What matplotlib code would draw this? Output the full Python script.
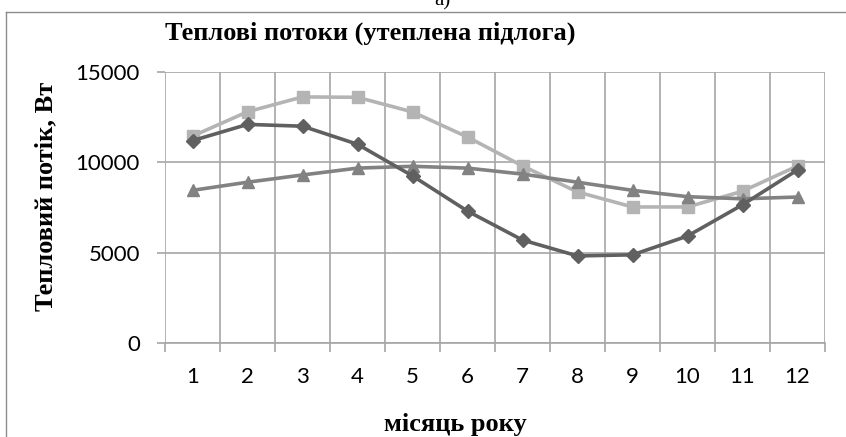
import numpy as np
import matplotlib.pyplot as plt
from matplotlib.lines import Line2D

months = np.arange(1, 13)
month_labels = [str(m) for m in months]

# heat flows, W
flow_diamond = [11200, 12100, 12000, 11000, 9250, 7300, 5700, 4820, 4880, 5920, 7650, 9580]
flow_square = [11450, 12800, 13620, 13600, 12790, 11400, 9800, 8360, 7530, 7530, 8400, 9800]
flow_triangle = [8450, 8900, 9300, 9680, 9780, 9680, 9350, 8900, 8450, 8100, 7980, 8080]

serif = 'Liberation Serif'
tickfont = 'Lato'

fig = plt.figure(figsize=(8.46, 4.37), dpi=100)
ax = fig.add_axes([165/846, 1 - 343/437, 660/846, 271/437])

grid_c = '#a6a6a6'
ax.plot(months, flow_diamond, color='#606060', lw=2.6, marker='D', ms=7, zorder=4)
ax.plot(months, flow_square, color='#b4b4b4', lw=2.6, marker='s', ms=8.5, zorder=3)
ax.plot(months, flow_triangle, color='#828282', lw=2.6, marker='^', ms=9, zorder=3)

ax.set_xlim(0.5, 12.5)
ax.set_ylim(0, 15000)
ax.set_yticks([0, 5000, 10000, 15000])
ax.set_xticks(months)
ax.set_xticklabels(month_labels)
ax.set_xticks(np.arange(0.5, 13, 1), minor=True)

ax.grid(True, which='minor', axis='x', color=grid_c, lw=1.2)
ax.grid(True, which='major', axis='y', color=grid_c, lw=1.2)
ax.tick_params(axis='x', which='major', length=0, pad=17, labelsize=16)
ax.tick_params(axis='x', which='minor', length=6.5, color=grid_c, width=1.2)
ax.tick_params(axis='y', length=6, color=grid_c, width=1.2, pad=12, labelsize=16)
for lab in ax.get_xticklabels() + ax.get_yticklabels():
    lab.set_fontfamily(tickfont)

for s in ['top', 'right', 'left']:
    ax.spines[s].set_visible(False)
ax.spines['bottom'].set_color(grid_c)
ax.spines['bottom'].set_linewidth(1.2)

fig.text(165/846, 1 - 33/437, 'Теплові потоки (утеплена підлога)', fontsize=19,
         fontweight='bold', family=serif, va='center', ha='left')
fig.text(46/846, 1 - 196/437, 'Тепловий потік, Вт', fontsize=19, fontweight='bold',
         family=serif, rotation=90, va='center', ha='center')
fig.text(455/846, 1 - 424/437, 'місяць року', fontsize=19, fontweight='bold',
         family=serif, va='center', ha='center')
fig.text(442/846, 1 - 1/437, 'а)', fontsize=15, family=serif, va='center', ha='center')

# outer frame of the chart
fig.add_artist(Line2D([6/846, 6/846], [0, 1 - 12/437], color='#8c8c8c', lw=1))
fig.add_artist(Line2D([6/846, 1], [1 - 12/437, 1 - 12/437], color='#8c8c8c', lw=1))

fig.savefig('out.png', dpi=100)
